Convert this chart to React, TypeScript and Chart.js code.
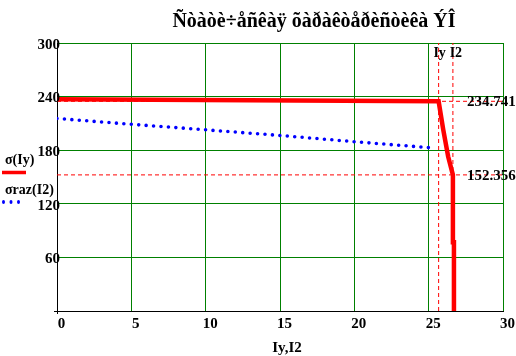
import React, { useEffect, useRef } from "react";
import { Chart, registerables } from "chart.js";

Chart.register(...registerables);

const TITLE = "Ñòàòè÷åñêàÿ õàðàêòåðèñòèêà ÝÎ";
const X_LABEL = "Iy,I2";
const LEGEND_LABELS = ["σ(Iy)", "σraz(I2)"];
const X_TICKS = [0, 5, 10, 15, 20, 25, 30];
const Y_TICKS = [0, 60, 120, 180, 240, 300];
const Y_TICK_LABELS = ["", "60", "120", "180", "240", "300"];

// σ(Iy) – red characteristic
const sigmaX = [0, 25.67, 25.98, 26.31, 26.63, 26.63, 26.7, 26.7];
const sigmaY = [237.0, 234.741, 203, 173, 152.356, 77, 77, 0];

// σraz(I2) – blue dotted
const rasX = [0, 5, 10, 15, 20, 25.3];
const rasY = [215.5, 209, 202.8, 196.5, 189.5, 182.5];

// marker lines
const markerNames = ["Iy", "I2"];
const markerX = [25.67, 26.63];
const markerY = [234.741, 152.356];

const SERIF = '"Liberation Serif", "Times New Roman", serif';

const textPlugin = {
  id: "textPlugin",
  afterDraw(chart: any) {
    const { ctx, scales } = chart;
    const x = scales.x;
    const y = scales.y;
    ctx.save();
    ctx.fillStyle = "#000";
    // title
    ctx.font = `bold 20px ${SERIF}`;
    ctx.textAlign = "center";
    ctx.textBaseline = "alphabetic";
    ctx.fillText(TITLE, 314, 27);
    // x axis label
    ctx.font = `bold 15px ${SERIF}`;
    ctx.fillText(X_LABEL, 287, 352);
    // y tick labels
    ctx.textAlign = "right";
    ctx.textBaseline = "middle";
    Y_TICKS.forEach((v, i) => {
      if (Y_TICK_LABELS[i]) ctx.fillText(Y_TICK_LABELS[i], x.left + 3, y.getPixelForValue(v) + 2);
    });
    // marker value labels
    ctx.textAlign = "left";
    ctx.textBaseline = "middle";
    markerY.forEach((v) => {
      ctx.fillText(v.toFixed(3), x.right - 36, y.getPixelForValue(v) + 1);
    });
    // marker names at top
    ctx.font = `bold 14px ${SERIF}`;
    ctx.textAlign = "center";
    ctx.textBaseline = "alphabetic";
    markerX.forEach((v, i) => {
      ctx.fillText(markerNames[i], x.getPixelForValue(v) + (i === 0 ? 1 : 3), 57);
    });
    // legend
    ctx.textAlign = "left";
    ctx.font = `bold 14px ${SERIF}`;
    ctx.fillText(LEGEND_LABELS[0], 5, 164);
    ctx.strokeStyle = "#ff0000";
    ctx.lineWidth = 3.5;
    ctx.beginPath();
    ctx.moveTo(2, 172.5);
    ctx.lineTo(26, 172.5);
    ctx.stroke();
    ctx.fillText(LEGEND_LABELS[1], 5, 194);
    ctx.fillStyle = "#0000ff";
    [3.5, 11, 18.5].forEach((px) => {
      ctx.beginPath();
      ctx.ellipse(px, 202, 1.5, 2, 0, 0, Math.PI * 2);
      ctx.fill();
    });
    ctx.restore();
  },
};

export default function App() {
  const ref = useRef<HTMLCanvasElement>(null);
  useEffect(() => {
    if (!ref.current) return;
    const line = (xs: number[], ys: number[]) => xs.map((xv, i) => ({ x: xv, y: ys[i] }));
    const dashed = (pts: { x: number; y: number }[]) => ({
      data: pts,
      borderColor: "#ff0000",
      borderWidth: 1,
      borderDash: [4, 3],
      pointRadius: 0,
      showLine: true,
      fill: false,
    });
    const chart = new Chart(ref.current, {
      type: "scatter",
      data: {
        datasets: [
          {
            label: LEGEND_LABELS[0],
            data: line(sigmaX, sigmaY),
            borderColor: "#ff0000",
            backgroundColor: "#ff0000",
            borderWidth: 4.5,
            pointRadius: 0,
            showLine: true,
            borderJoinStyle: "miter",
          } as any,
          {
            label: LEGEND_LABELS[1],
            data: line(rasX, rasY),
            borderColor: "#0000ff",
            borderWidth: 3.6,
            borderDash: [0, 7.45],
            borderCapStyle: "round",
            pointRadius: 0,
            showLine: true,
          } as any,
          ...markerY.map((v) => dashed([{ x: X_TICKS[0], y: v }, { x: X_TICKS[X_TICKS.length - 1], y: v }])),
          ...markerX.map((v) => dashed([{ x: v, y: Y_TICKS[0] }, { x: v, y: Y_TICKS[Y_TICKS.length - 1] }])),
        ] as any,
      },
      options: {
        responsive: false,
        animation: false,
        events: [],
        layout: { padding: { top: 43, right: 13, left: 0, bottom: 0 } },
        plugins: { legend: { display: false }, title: { display: false }, tooltip: { enabled: false } },
        scales: {
          x: {
            type: "linear",
            min: X_TICKS[0],
            max: X_TICKS[X_TICKS.length - 1],
            afterBuildTicks: (s: any) => {
              s.ticks = X_TICKS.map((v) => ({ value: v }));
            },
            afterFit: (s: any) => {
              s.height = 45;
            },
            grid: {
              color: "#008000",
              lineWidth: 1,
              tickLength: 3,
              tickColor: (c: any) => (c.index === 0 ? "#000" : "rgba(0,0,0,0)"),
            },
            border: { display: true, color: "#000", width: 1 },
            ticks: {
              color: "#000",
              font: { family: SERIF, size: 15, weight: "bold" },
              padding: 1,
              labelOffset: 4.5,
              maxRotation: 0,
            },
          },
          y: {
            type: "linear",
            min: Y_TICKS[0],
            max: Y_TICKS[Y_TICKS.length - 1],
            afterBuildTicks: (s: any) => {
              s.ticks = Y_TICKS.map((v) => ({ value: v }));
            },
            afterFit: (s: any) => {
              s.width = 57;
            },
            grid: {
              color: "#008000",
              lineWidth: 1,
              tickLength: 3,
              tickColor: (c: any) => (c.index === 0 ? "#000" : "rgba(0,0,0,0)"),
            },
            border: { display: true, color: "#000", width: 1 },
            ticks: { display: false },
          },
        },
      } as any,
      plugins: [textPlugin],
    });
    return () => chart.destroy();
  }, []);
  return (
    <div style={{ position: "absolute", left: 0, top: 0, width: 516, height: 356, background: "#fff" }}>
      <canvas ref={ref} width={516} height={356} style={{ display: "block" }} />
    </div>
  );
}
